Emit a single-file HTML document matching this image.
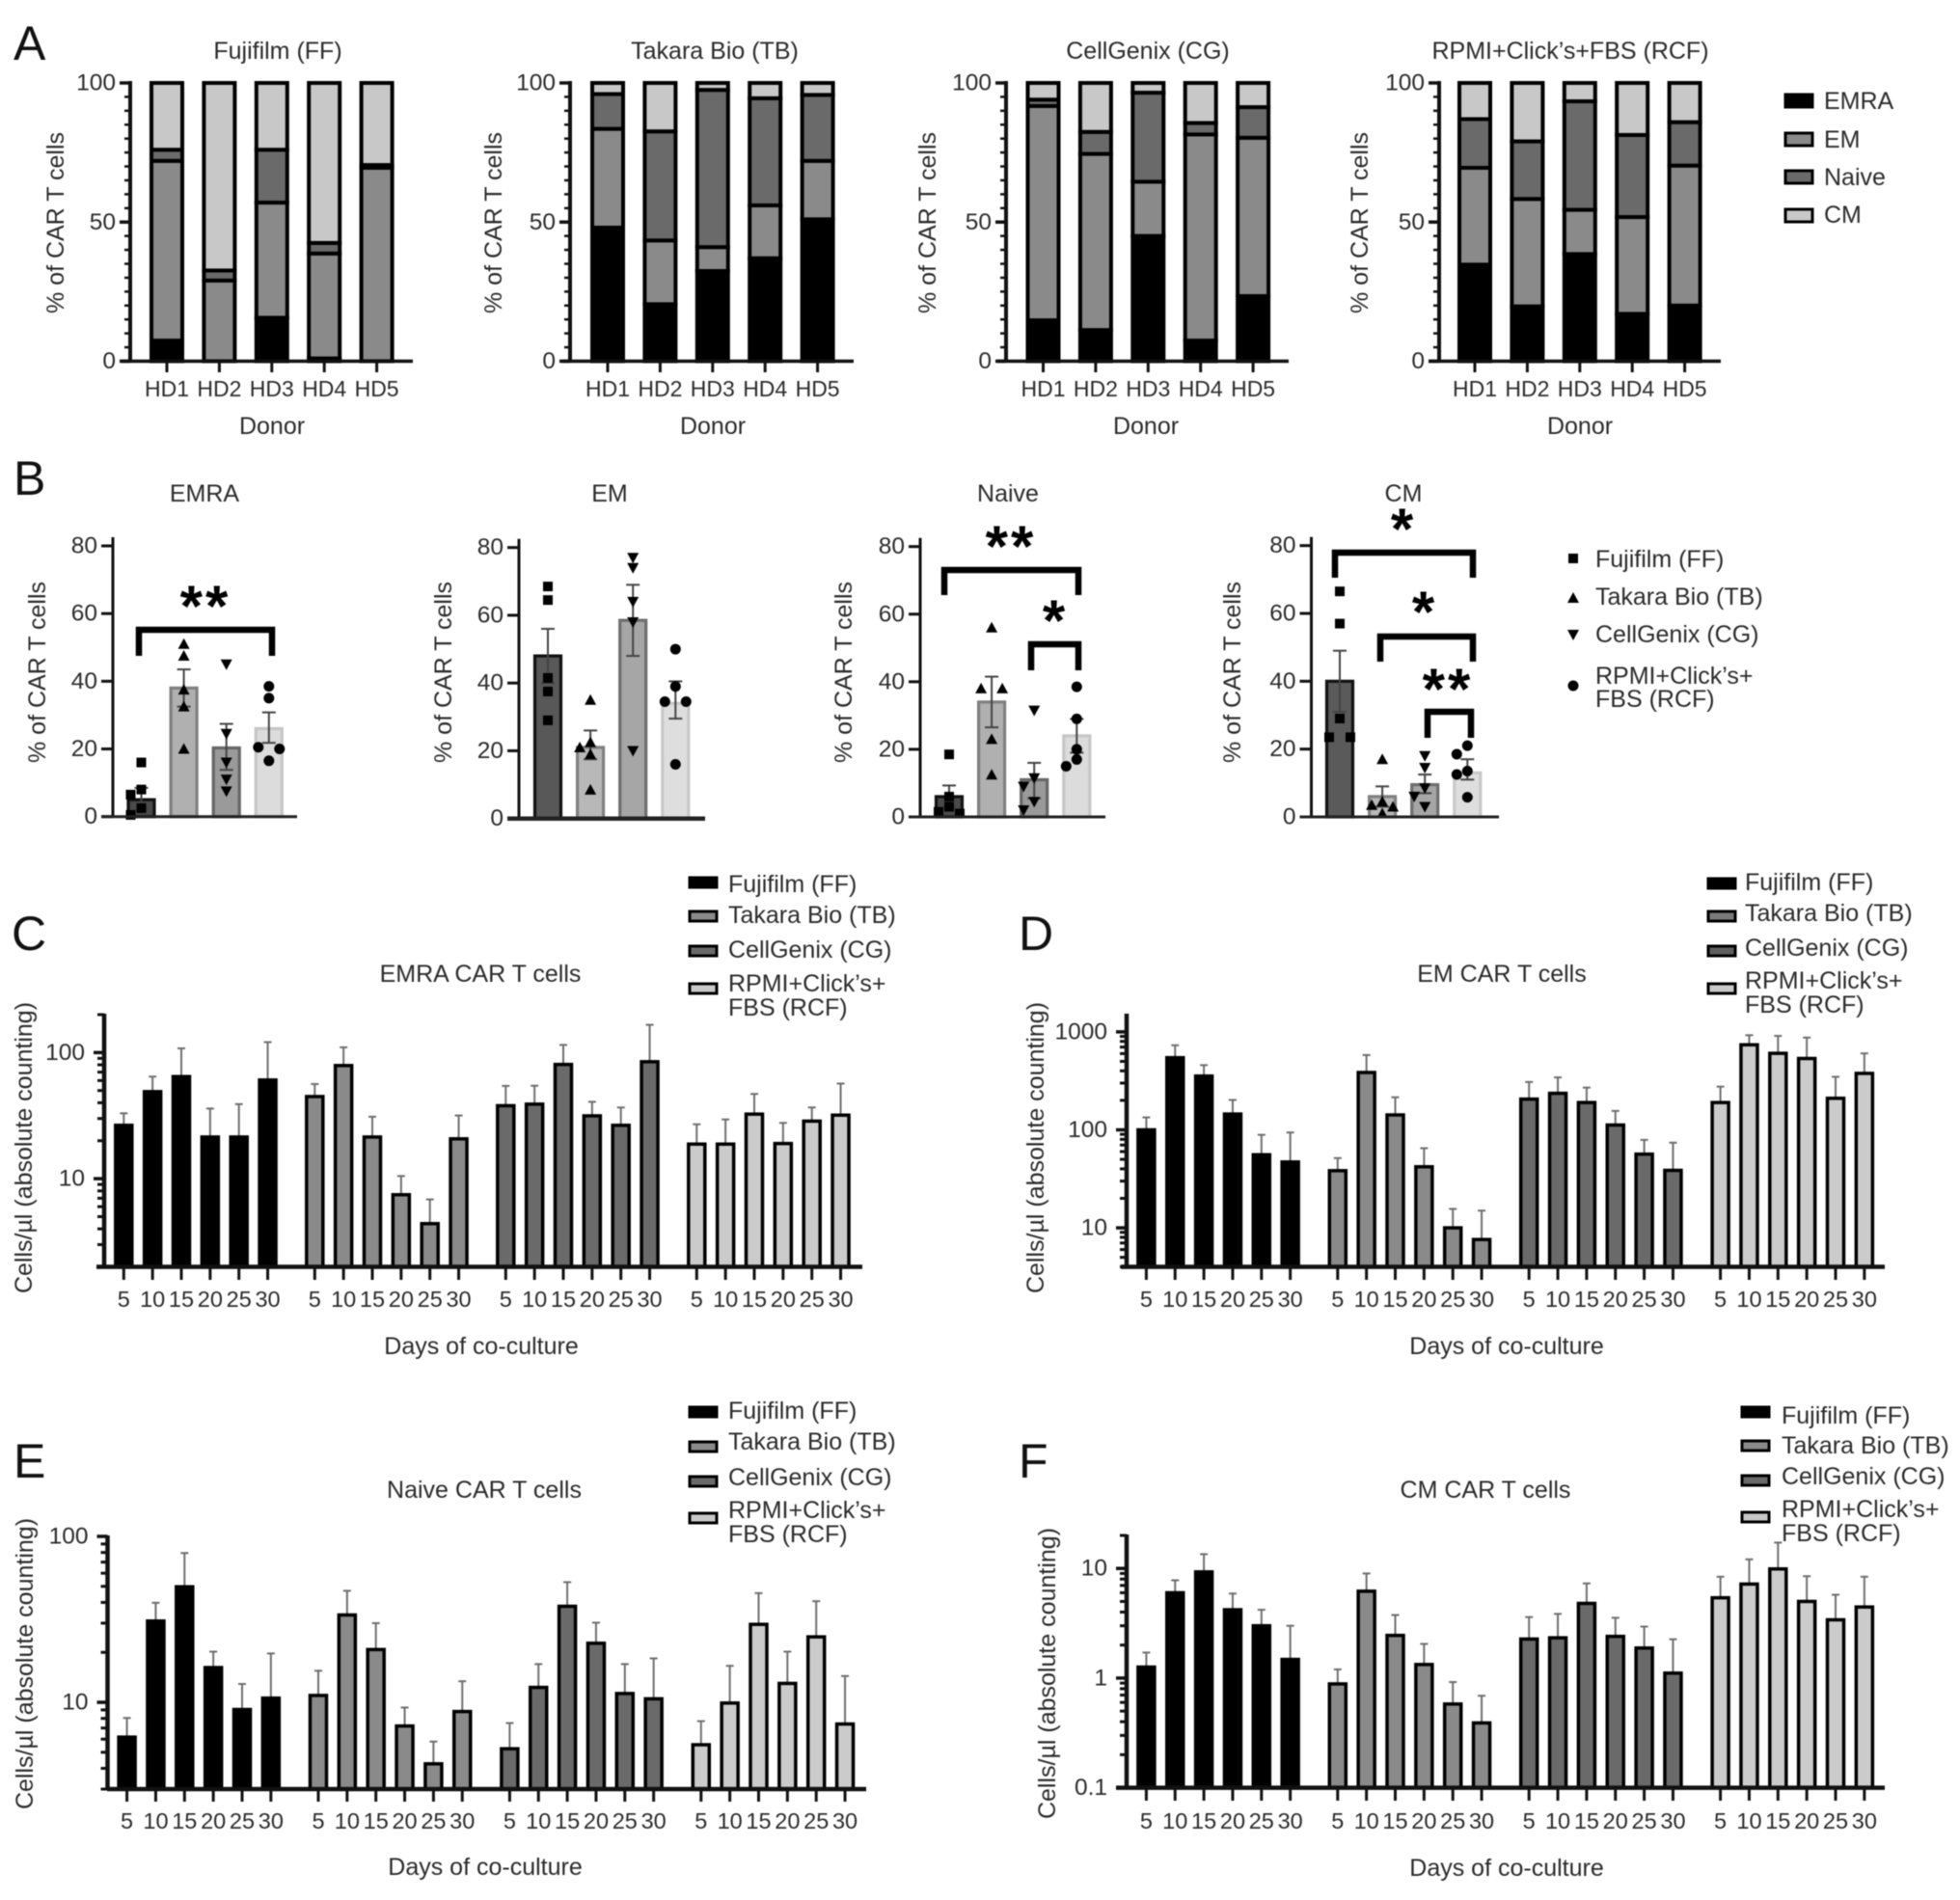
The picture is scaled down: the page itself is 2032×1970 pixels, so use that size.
<!DOCTYPE html>
<html lang="en">
<head>
<meta charset="utf-8">
<title>CAR T cell subsets by culture medium</title>
<style>
html,body{margin:0;padding:0;background:#fff;}
#figure{position:absolute;left:0;top:0;width:2032px;height:1970px;filter:blur(0.6px);}
text{font-family:"Liberation Sans",Arial,sans-serif;fill:#2b2b2b;font-size:25px;}
.lbl{dominant-baseline:central;}
.mid{text-anchor:middle;dominant-baseline:central;}
.end{text-anchor:end;dominant-baseline:central;}
.yt{text-anchor:middle;dominant-baseline:central;font-size:25px;}
.yc{text-anchor:middle;dominant-baseline:central;font-size:25px;}
.letter{font-size:50px;fill:#111;}
.star{font-size:60px;font-weight:bold;text-anchor:middle;fill:#000;letter-spacing:3px;}
.bk{fill:none;stroke:#000;stroke-width:6.5;stroke-linejoin:miter;}
</style>
</head>
<body>
<svg id="figure" width="2032" height="1970" viewBox="0 0 2032 1970">
<rect x="0" y="0" width="2032" height="1970" fill="#fff"/>

<!-- Panel letters -->
<text class="letter" x="14" y="62">A</text>
<text class="letter" x="14" y="513">B</text>
<text class="letter" x="12" y="985">C</text>
<text class="letter" x="1056" y="985">D</text>
<text class="letter" x="14" y="1532">E</text>
<text class="letter" x="1056" y="1532">F</text>

<!-- Panel A static text -->
<text class="mid" x="288" y="53">Fujifilm (FF)</text>
<text class="mid" x="741" y="53">Takara Bio (TB)</text>
<text class="mid" x="1190" y="53">CellGenix (CG)</text>
<text class="mid" x="1628" y="53">RPMI+Click’s+FBS (RCF)</text>
<text class="mid" x="282" y="442">Donor</text>
<text class="mid" x="739" y="442">Donor</text>
<text class="mid" x="1188" y="442">Donor</text>
<text class="mid" x="1638" y="442">Donor</text>
<text class="yt" x="58" y="231" transform="rotate(-90 58 231)">% of CAR T cells</text>
<text class="yt" x="512" y="231" transform="rotate(-90 512 231)">% of CAR T cells</text>
<text class="yt" x="962" y="231" transform="rotate(-90 962 231)">% of CAR T cells</text>
<text class="yt" x="1410" y="231" transform="rotate(-90 1410 231)">% of CAR T cells</text>

<!-- Panel A legend -->
<g>
<rect x="1851" y="98" width="28" height="13" fill="#000" stroke="#000" stroke-width="3"/>
<text class="lbl" x="1891" y="105">EMRA</text>
<rect x="1851" y="138" width="28" height="13" fill="#8a8a8a" stroke="#000" stroke-width="3"/>
<text class="lbl" x="1891" y="145">EM</text>
<rect x="1851" y="177" width="28" height="13" fill="#6a6a6a" stroke="#000" stroke-width="3"/>
<text class="lbl" x="1891" y="184">Naive</text>
<rect x="1851" y="217" width="28" height="13" fill="#c8c8c8" stroke="#000" stroke-width="3"/>
<text class="lbl" x="1891" y="223">CM</text>
</g>

<!-- Panel B static text -->
<text class="mid" x="212" y="512">EMRA</text>
<text class="mid" x="632" y="512">EM</text>
<text class="mid" x="1045" y="512">Naive</text>
<text class="mid" x="1455" y="512">CM</text>
<text class="yt" x="39" y="697" transform="rotate(-90 39 697)">% of CAR T cells</text>
<text class="yt" x="460" y="697" transform="rotate(-90 460 697)">% of CAR T cells</text>
<text class="yt" x="875" y="697" transform="rotate(-90 875 697)">% of CAR T cells</text>
<text class="yt" x="1278" y="697" transform="rotate(-90 1278 697)">% of CAR T cells</text>

<!-- Panel B significance -->
<path class="bk" d="M144 680V653H282V680"/>
<text class="star" x="213" y="649">**</text>
<path class="bk" d="M979 617V591H1118V617"/>
<text class="star" x="1048" y="587">**</text>
<path class="bk" d="M1069 695V668H1118V695"/>
<text class="star" x="1094" y="664">*</text>
<path class="bk" d="M1384 599V573H1527V599"/>
<text class="star" x="1455" y="569">*</text>
<path class="bk" d="M1431 686V660H1527V686"/>
<text class="star" x="1477" y="655">*</text>
<path class="bk" d="M1480 765V738H1525V765"/>
<text class="star" x="1501" y="735">**</text>

<!-- Panel B legend -->
<g>
<rect x="1626" y="574" width="10" height="10" fill="#000"/>
<text class="lbl" x="1654" y="580">Fujifilm (FF)</text>
<polygon points="1631,614 1637,625 1625,625" fill="#000"/>
<text class="lbl" x="1654" y="619">Takara Bio (TB)</text>
<polygon points="1625,653 1637,653 1631,664" fill="#000"/>
<text class="lbl" x="1654" y="658">CellGenix (CG)</text>
<circle cx="1631" cy="711" r="5.5" fill="#000"/>
<text class="lbl" x="1654" y="701">RPMI+Click’s+</text>
<text class="lbl" x="1654" y="725">FBS (RCF)</text>
</g>

<!-- Panel C static -->
<text class="mid" x="498" y="1010">EMRA CAR T cells</text>
<text class="mid" x="499" y="1396">Days of co-culture</text>
<text class="yc" x="25" y="1190" transform="rotate(-90 25 1190)">Cells/µl (absolute counting)</text>
<g>
<rect x="715" y="910" width="28" height="10" fill="#000" stroke="#000" stroke-width="3"/>
<text class="lbl" x="755" y="917">Fujifilm (FF)</text>
<rect x="715" y="945" width="28" height="10" fill="#8a8a8a" stroke="#000" stroke-width="3"/>
<text class="lbl" x="755" y="949">Takara Bio (TB)</text>
<rect x="715" y="981" width="28" height="10" fill="#6a6a6a" stroke="#000" stroke-width="3"/>
<text class="lbl" x="755" y="985">CellGenix (CG)</text>
<rect x="715" y="1020" width="28" height="10" fill="#c8c8c8" stroke="#000" stroke-width="3"/>
<text class="lbl" x="755" y="1020">RPMI+Click’s+</text>
<text class="lbl" x="755" y="1045">FBS (RCF)</text>
</g>

<!-- Panel D static -->
<text class="mid" x="1557" y="1010">EM CAR T cells</text>
<text class="mid" x="1562" y="1396">Days of co-culture</text>
<text class="yc" x="1074" y="1190" transform="rotate(-90 1074 1190)">Cells/µl (absolute counting)</text>
<g>
<rect x="1771" y="911" width="28" height="10" fill="#000" stroke="#000" stroke-width="3"/>
<text class="lbl" x="1809" y="915">Fujifilm (FF)</text>
<rect x="1771" y="945" width="28" height="10" fill="#7a7a7a" stroke="#000" stroke-width="3"/>
<text class="lbl" x="1809" y="947">Takara Bio (TB)</text>
<rect x="1771" y="981" width="28" height="10" fill="#5f5f5f" stroke="#000" stroke-width="3"/>
<text class="lbl" x="1809" y="983">CellGenix (CG)</text>
<rect x="1771" y="1020" width="28" height="10" fill="#c8c8c8" stroke="#000" stroke-width="3"/>
<text class="lbl" x="1809" y="1017">RPMI+Click’s+</text>
<text class="lbl" x="1809" y="1042">FBS (RCF)</text>
</g>

<!-- Panel E static -->
<text class="mid" x="502" y="1545">Naive CAR T cells</text>
<text class="mid" x="503" y="1936">Days of co-culture</text>
<text class="yc" x="26" y="1725" transform="rotate(-90 26 1725)">Cells/µl (absolute counting)</text>
<g>
<rect x="715" y="1459" width="28" height="10" fill="#000" stroke="#000" stroke-width="3"/>
<text class="lbl" x="755" y="1463">Fujifilm (FF)</text>
<rect x="715" y="1495" width="28" height="10" fill="#8a8a8a" stroke="#000" stroke-width="3"/>
<text class="lbl" x="755" y="1495">Takara Bio (TB)</text>
<rect x="715" y="1531" width="28" height="10" fill="#6a6a6a" stroke="#000" stroke-width="3"/>
<text class="lbl" x="755" y="1532">CellGenix (CG)</text>
<rect x="715" y="1569" width="28" height="10" fill="#c8c8c8" stroke="#000" stroke-width="3"/>
<text class="lbl" x="755" y="1566">RPMI+Click’s+</text>
<text class="lbl" x="755" y="1591">FBS (RCF)</text>
</g>

<!-- Panel F static -->
<text class="mid" x="1540" y="1545">CM CAR T cells</text>
<text class="mid" x="1562" y="1937">Days of co-culture</text>
<text class="yc" x="1086" y="1735" transform="rotate(-90 1086 1735)">Cells/µl (absolute counting)</text>
<g>
<rect x="1806" y="1459" width="28" height="10" fill="#000" stroke="#000" stroke-width="3"/>
<text class="lbl" x="1847" y="1468">Fujifilm (FF)</text>
<rect x="1806" y="1494" width="28" height="10" fill="#8a8a8a" stroke="#000" stroke-width="3"/>
<text class="lbl" x="1847" y="1499">Takara Bio (TB)</text>
<rect x="1806" y="1530" width="28" height="10" fill="#6a6a6a" stroke="#000" stroke-width="3"/>
<text class="lbl" x="1847" y="1531">CellGenix (CG)</text>
<rect x="1806" y="1568" width="28" height="10" fill="#c8c8c8" stroke="#000" stroke-width="3"/>
<text class="lbl" x="1847" y="1565">RPMI+Click’s+</text>
<text class="lbl" x="1847" y="1590">FBS (RCF)</text>
</g>

<g id="marks"></g>
</svg>

<script>
/* ---------- Shared categories ---------- */
const donors = ["HD1", "HD2", "HD3", "HD4", "HD5"];
const days = [5, 10, 15, 20, 25, 30];
const stackedTicks = [0, 50, 100];
const percentTicks = [0, 20, 40, 60, 80];

/* ---------- Panel A: subset share per donor ---------- */
const ff_emra = [7.4, 0, 15.6, 1, 0];
const ff_em = [64.6, 29, 41.4, 37.7, 69.5];
const ff_naive = [4, 3.6, 19, 3.8, 1];
const ff_cm = [24, 67.4, 24, 57.5, 29.5];
const tb_emra = [48, 20.5, 32.4, 37, 51];
const tb_em = [35.5, 22.9, 8.6, 19, 21];
const tb_naive = [12.5, 39.2, 56.5, 38.5, 23.7];
const tb_cm = [4, 17.4, 2.5, 5.5, 4.3];
const cg_emra = [14.7, 11.2, 45, 7.4, 23.4];
const cg_em = [77, 63.3, 19.5, 74.1, 56.9];
const cg_naive = [2.3, 7.9, 32, 4.1, 11];
const cg_cm = [6, 17.6, 3.5, 14.4, 8.7];
const rcf_emra = [34.7, 19.7, 38.5, 17, 20];
const rcf_em = [34.8, 38.6, 15.9, 34.8, 50.3];
const rcf_naive = [17.5, 20.7, 39, 29.5, 15.6];
const rcf_cm = [13, 21, 6.6, 18.7, 14.1];

/* ---------- Panel B: means, error limits and donor points ---------- */
const emra_means = [5, 38, 20.3, 26];
const emra_upper = [8.5, 43.5, 27.4, 30.8];
const emra_lower = [2, 32.5, 13.8, 21.8];
const emra_ff_points = [16, 8, 6.5, 2.5, 0.5];
const emra_tb_points = [51, 47.5, 37.5, 32.5, 20];
const emra_cg_points = [45, 24.5, 16, 11, 7.5];
const emra_rcf_points = [38.5, 35, 20.5, 20, 16.5];

const em_means = [48, 21, 58.5, 34];
const em_upper = [56, 26, 69, 40.5];
const em_lower = [40, 17.5, 48, 29.5];
const em_ff_points = [68.5, 64.5, 41.5, 37.5, 29];
const em_tb_points = [35, 22.5, 21, 19, 8.5];
const em_cg_points = [77, 74, 64, 58, 20];
const em_rcf_points = [50, 39, 34.5, 34.5, 16];

const naive_means = [6, 34, 11, 24];
const naive_upper = [9.3, 41.5, 16, 29];
const naive_lower = [3, 26.5, 5.5, 19];
const naive_ff_points = [18.5, 6, 3, 1.5, 1];
const naive_tb_points = [56, 38, 38, 23, 12.5];
const naive_cg_points = [31.5, 11.5, 9, 4.5, 2];
const naive_rcf_points = [38.5, 29, 20, 17, 15];

const cm_means = [40, 6, 9.5, 13];
const cm_upper = [49, 9, 12.5, 17];
const cm_lower = [31, 3, 7, 11];
const cm_ff_points = [66.5, 57, 29, 23.5, 23.5];
const cm_tb_points = [17, 4.5, 3.5, 3, 1];
const cm_cg_points = [18, 14.5, 8.5, 6, 3];
const cm_rcf_points = [21, 18.5, 13.5, 12.5, 5.8];

/* ---------- Panel C: EMRA cells/µl ---------- */
const c_ticks = [10, 100];
const c_ff_mean = [26.5, 49, 64.5, 21.4, 21.4, 60.6];
const c_ff_err = [33, 64.5, 108, 36, 39, 121];
const c_tb_mean = [44.8, 78.9, 21.4, 7.46, 4.4, 20.7];
const c_tb_err = [56.3, 110, 31, 10.5, 6.85, 31.7];
const c_cg_mean = [37.9, 39, 80.5, 31.5, 26.5, 84.6];
const c_cg_err = [54.4, 54.6, 115, 40.7, 36.7, 166];
const c_rcf_mean = [18.8, 18.8, 32.5, 19, 28.6, 31.9];
const c_rcf_err = [27, 29.5, 47, 27.7, 36.7, 56.8];

/* ---------- Panel D: EM cells/µl ---------- */
const d_ticks = [10, 100, 1000];
const d_ff_mean = [100, 545, 354, 145, 55.7, 47];
const d_ff_err = [134, 730, 458, 202, 89, 94];
const d_tb_mean = [38.3, 385, 142, 42, 10, 7.6];
const d_tb_err = [51.5, 580, 215, 65, 15.6, 15];
const d_cg_mean = [206, 236, 190, 112, 56.5, 38.6];
const d_cg_err = [308, 343, 270, 156, 79, 74];
const d_rcf_mean = [190, 738, 604, 535, 210, 377];
const d_rcf_err = [276, 925, 910, 875, 348, 603];

/* ---------- Panel E: Naive cells/µl ---------- */
const e_ticks = [10, 100];
const e_ff_mean = [6.17, 30.9, 49.7, 16.2, 9.05, 10.6];
const e_ff_err = [8.05, 39.8, 79.4, 20.2, 12.9, 19.7];
const e_tb_mean = [11, 33.6, 20.8, 7.2, 4.26, 8.8];
const e_tb_err = [15.5, 47, 30, 9.3, 5.8, 13.4];
const e_cg_mean = [5.25, 12.3, 37.9, 22.7, 11.3, 10.5];
const e_cg_err = [7.5, 17, 53, 30.2, 17, 18.4];
const e_rcf_mean = [5.55, 9.9, 29.5, 13, 24.8, 7.4];
const e_rcf_err = [7.7, 16.6, 45.5, 20.2, 40.7, 14.4];

/* ---------- Panel F: CM cells/µl ---------- */
const f_ticks = [0.1, 1, 10];
const f_ff_mean = [1.26, 6, 9.3, 4.2, 3, 1.48];
const f_ff_err = [1.71, 7.8, 13.5, 5.9, 4.2, 3];
const f_tb_mean = [0.885, 6.2, 2.45, 1.33, 0.58, 0.39];
const f_tb_err = [1.2, 9, 3.76, 2.05, 0.92, 0.69];
const f_cg_mean = [2.27, 2.33, 4.8, 2.4, 1.88, 1.11];
const f_cg_err = [3.6, 3.85, 7.3, 3.55, 2.95, 2.26];
const f_rcf_mean = [5.4, 7.2, 9.9, 5, 3.4, 4.45];
const f_rcf_err = [8.4, 12.1, 17.2, 8.5, 5.75, 8.4];

const NS = "http://www.w3.org/2000/svg";
const marks = document.getElementById("marks");

function mk(parent, tag, attrs, txt) {
  const el = document.createElementNS(NS, tag);
  for (const k in attrs) el.setAttribute(k, attrs[k]);
  if (txt !== undefined) el.textContent = txt;
  parent.appendChild(el);
  return el;
}
function line(parent, name, x1, y1, x2, y2, stroke, w) {
  const el = mk(parent, "line", {x1: x1, y1: y1, x2: x2, y2: y2, stroke: stroke, "stroke-width": w});
  
  
  return el;
}
function label(parent, name, x, y, cls, size, txt) {
  const el = mk(parent, "text", {x: x, y: y, class: cls, style: "font-size:" + size + "px"}, txt);
  
  
  return el;
}
function group(name) {
  const g = mk(marks, "g", {});
  
  
  return g;
}
function linearScale(v0, r0, v1, r1) {
  return v => r0 + (v - v0) * (r1 - r0) / (v1 - v0);
}
function logScale(v0, r0, v1, r1) {
  const a = Math.log10(v0), b = Math.log10(v1);
  return v => r0 + (Math.log10(v) - a) * (r1 - r0) / (b - a);
}

/* ---------- Panel A drawing ---------- */
const stackFills = ["#000000", "#8a8a8a", "#6a6a6a", "#c8c8c8"];
const stackNames = ["emra", "em", "naive", "cm"];
const stackedPanels = [
  {key: "ff", series: [ff_emra, ff_em, ff_naive, ff_cm], axisX: 135, first: 173, xStart: 126, xEnd: 428},
  {key: "tb", series: [tb_emra, tb_em, tb_naive, tb_cm], axisX: 591, first: 630, xStart: 583, xEnd: 885},
  {key: "cg", series: [cg_emra, cg_em, cg_naive, cg_cm], axisX: 1043, first: 1081.5, xStart: 1034, xEnd: 1336},
  {key: "rcf", series: [rcf_emra, rcf_em, rcf_naive, rcf_cm], axisX: 1492, first: 1529, xStart: 1481, xEnd: 1784}
];
stackedPanels.forEach(p => {
  const g = group("stacked-chart-" + p.key);
  const y = linearScale(0, 374.5, 100, 86);
  const step = 54.4;
  donors.forEach((d, i) => {
    const cx = p.first + i * step;
    let base = 0;
    p.series.forEach((s, k) => {
      const v = s[i];
      if (v > 0) {
        const r = mk(g, "rect", {x: cx - 16, y: y(base + v), width: 32, height: y(base) - y(base + v), fill: stackFills[k], stroke: "#000", "stroke-width": 4});
        
        
      }
      base += v;
    });
    line(g, "x-tick", cx, 374, cx, 386, "#111", 3);
    label(g, "x-tick-label", cx, 403, "mid", 23, d);
  });
  for (let t = 0; t <= 100; t += 5) {
    const major = stackedTicks.indexOf(t) >= 0;
    line(g, major ? "y-tick" : "y-minor-tick", p.axisX, y(t), p.axisX - (major ? 11 : 6), y(t), "#111", major ? 3.5 : 2.5);
  }
  stackedTicks.forEach(t => label(g, "y-tick-label", p.axisX - 15, y(t), "end", 24.5, String(t)));
  line(g, "y-axis", p.axisX, 84, p.axisX, 376, "#111", 4);
  line(g, "x-axis", p.xStart, 374.5, p.xEnd, 374.5, "#111", 3.5);
});

/* ---------- Panel B drawing ---------- */
const markerShapes = ["square", "up", "down", "circle"];
const mediaKeys = ["ff", "tb", "cg", "rcf"];
function drawMarker(g, shape, x, y) {
  let el;
  if (shape === "square") el = mk(g, "rect", {x: x - 5, y: y - 5, width: 10, height: 10, fill: "#000"});
  else if (shape === "up") el = mk(g, "polygon", {points: [x, y - 6, x + 6, y + 5, x - 6, y + 5].join(" "), fill: "#000"});
  else if (shape === "down") el = mk(g, "polygon", {points: [x - 6, y - 5, x + 6, y - 5, x, y + 6].join(" "), fill: "#000"});
  else el = mk(g, "circle", {cx: x, cy: y, r: 5.5, fill: "#000"});
  
  
}
const dotPanels = [
  {key: "emra", means: emra_means, upper: emra_upper, lower: emra_lower, points: [emra_ff_points, emra_tb_points, emra_cg_points, emra_rcf_points],
   fills: ["#4a4a4a", "#b0b0b0", "#9a9a9a", "#dcdcdc"], strokes: ["#111", "#808080", "#666", "#c6c6c6"], axisX: 117, y0: 846.7, y80: 566, xStart: 105, xEnd: 308, first: 146.5, axisW: 3},
  {key: "em", means: em_means, upper: em_upper, lower: em_lower, points: [em_ff_points, em_tb_points, em_cg_points, em_rcf_points],
   fills: ["#585858", "#b8b8b8", "#a6a6a6", "#dedede"], strokes: ["#111", "#808080", "#6e6e6e", "#c8c8c8"], axisX: 538, y0: 848.7, y80: 567.7, xStart: 526, xEnd: 731, first: 568, axisW: 4.5},
  {key: "naive", means: naive_means, upper: naive_upper, lower: naive_lower, points: [naive_ff_points, naive_tb_points, naive_cg_points, naive_rcf_points],
   fills: ["#4a4a4a", "#b0b0b0", "#9a9a9a", "#dcdcdc"], strokes: ["#111", "#808080", "#666", "#c6c6c6"], axisX: 954, y0: 847, y80: 566.7, xStart: 943, xEnd: 1146, first: 984, axisW: 3},
  {key: "cm", means: cm_means, upper: cm_upper, lower: cm_lower, points: [cm_ff_points, cm_tb_points, cm_cg_points, cm_rcf_points],
   fills: ["#5a5a5a", "#b8b8b8", "#a6a6a6", "#dedede"], strokes: ["#111", "#808080", "#6e6e6e", "#c8c8c8"], axisX: 1359.5, y0: 847, y80: 565.7, xStart: 1348, xEnd: 1554, first: 1389, axisW: 3}
];
dotPanels.forEach(p => {
  const g = group("dot-bar-chart-" + p.key);
  const y = linearScale(0, p.y0, 80, p.y80);
  const step = 44.1;
  p.means.forEach((m, i) => {
    const cx = p.first + i * step;
    const r = mk(g, "rect", {x: cx - 13.5, y: y(m), width: 27, height: p.y0 - y(m), fill: p.fills[i], stroke: p.strokes[i], "stroke-width": 3.2});
    
    
    line(g, "error-bar", cx, y(p.upper[i]), cx, y(p.lower[i]), "#444", 2);
    line(g, "error-cap-upper", cx - 7, y(p.upper[i]), cx + 7, y(p.upper[i]), "#444", 2);
    line(g, "error-cap-lower", cx - 7, y(p.lower[i]), cx + 7, y(p.lower[i]), "#444", 2);
    const sorted = p.points[i].slice().sort((a, b) => b - a);
    const placed = [];
    sorted.forEach((v, n) => {
      const py = y(v);
      const nearNext = n + 1 < sorted.length && Math.abs(y(sorted[n + 1]) - py) < 3;
      const nearPrev = n > 0 && Math.abs(y(sorted[n - 1]) - py) < 3;
      let off = 0;
      if (nearNext) off = -11;
      else if (nearPrev) off = 11;
      else {
        const clash = o => placed.some(q => Math.abs(q.x - o) < 9 && Math.abs(q.y - py) < 9);
        if (clash(0)) off = clash(-11) ? 11 : -11;
      }
      placed.push({x: off, y: py});
      drawMarker(g, markerShapes[i], cx + off, py);
    });
  });
  percentTicks.forEach(t => {
    line(g, "y-tick", p.axisX, y(t), p.axisX - 12, y(t), "#111", 3);
    label(g, "y-tick-label", p.axisX - 16, y(t), "end", 24.5, String(t));
  });
  line(g, "y-axis", p.axisX, p.y80 - 9, p.axisX, p.y0, "#111", 3);
  line(g, "x-axis", p.xStart, p.y0, p.xEnd, p.y0, "#222", p.axisW);
});

/* ---------- Panels C-F drawing ---------- */
const mediaFills = ["#000000", "#8a8a8a", "#6a6a6a", "#cbcbcb"];
const logPanels = [
  {key: "c", ticks: c_ticks, means: [c_ff_mean, c_tb_mean, c_cg_mean, c_rcf_mean], errs: [c_ff_err, c_tb_err, c_cg_err, c_rcf_err],
   vMin: 2, vMax: 200, yBottom: 1313.5, yTop: 1052, axisX: 108, xStart: 100, xEnd: 894, first: 128.3, groupStep: 198, labelY: 1347, tickEnd: 1327},
  {key: "d", ticks: d_ticks, means: [d_ff_mean, d_tb_mean, d_cg_mean, d_rcf_mean], errs: [d_ff_err, d_tb_err, d_cg_err, d_rcf_err],
   vMin: 4, vMax: 1500, yBottom: 1313.5, yTop: 1052, axisX: 1168, xStart: 1162, xEnd: 1954, first: 1188.4, groupStep: 198.4, labelY: 1347, tickEnd: 1327},
  {key: "e", ticks: e_ticks, means: [e_ff_mean, e_tb_mean, e_cg_mean, e_rcf_mean], errs: [e_ff_err, e_tb_err, e_cg_err, e_rcf_err],
   vMin: 3, vMax: 100, yBottom: 1855, yTop: 1593, axisX: 111.5, xStart: 111, xEnd: 898, first: 131.6, groupStep: 198.4, labelY: 1888, tickEnd: 1868},
  {key: "f", ticks: f_ticks, means: [f_ff_mean, f_tb_mean, f_cg_mean, f_rcf_mean], errs: [f_ff_err, f_tb_err, f_cg_err, f_rcf_err],
   vMin: 0.1, vMax: 20, yBottom: 1853.6, yTop: 1592, axisX: 1168, xStart: 1157, xEnd: 1954, first: 1188.4, groupStep: 198.4, labelY: 1888, tickEnd: 1867}
];
logPanels.forEach(p => {
  const g = group("log-bar-chart-" + p.key);
  const y = logScale(p.vMin, p.yBottom, p.vMax, p.yTop);
  const step = 29.85;
  p.means.forEach((series, k) => {
    const gx = p.first + k * p.groupStep;
    series.forEach((m, i) => {
      const cx = gx + i * step;
      const e = p.errs[k][i];
      line(g, "error-bar", cx, y(e), cx, y(m), "#6f6f6f", 2);
      line(g, "error-cap", cx - 4, y(e), cx + 4, y(e), "#6f6f6f", 2);
      const r = mk(g, "rect", {x: cx - 8.5, y: y(m), width: 17, height: p.yBottom - y(m), fill: mediaFills[k], stroke: "#000", "stroke-width": 3.5});
      
      
      line(g, "x-tick", cx, p.yBottom, cx, p.tickEnd, "#111", 3);
      label(g, "x-tick-label", cx, p.labelY, "mid", 23.5, String(days[i]));
    });
  });
  const lo = Math.floor(Math.log10(p.vMin) + 1e-9), hi = Math.ceil(Math.log10(p.vMax) - 1e-9);
  for (let d = lo; d <= hi; d++) {
    for (let m = 1; m <= 9; m++) {
      const v = m * Math.pow(10, d);
      if (v < p.vMin * 0.999 || v > p.vMax * 1.001) continue;
      if (m === 1) continue;
      line(g, "y-minor-tick", p.axisX, y(v), p.axisX - 7, y(v), "#111", 3);
    }
  }
  p.ticks.forEach(t => {
    line(g, "y-tick", p.axisX, y(t), p.axisX - 11, y(t), "#111", 3.5);
    label(g, "y-tick-label", p.axisX - 20, y(t), "end", 24.5, String(t));
  });
  line(g, "y-axis", p.axisX, p.yTop - 1, p.axisX, p.yBottom + 1, "#111", 4.5);
  line(g, "x-axis", p.xStart, p.yBottom, p.xEnd, p.yBottom, "#111", 4.5);
});
</script>
</body>
</html>
